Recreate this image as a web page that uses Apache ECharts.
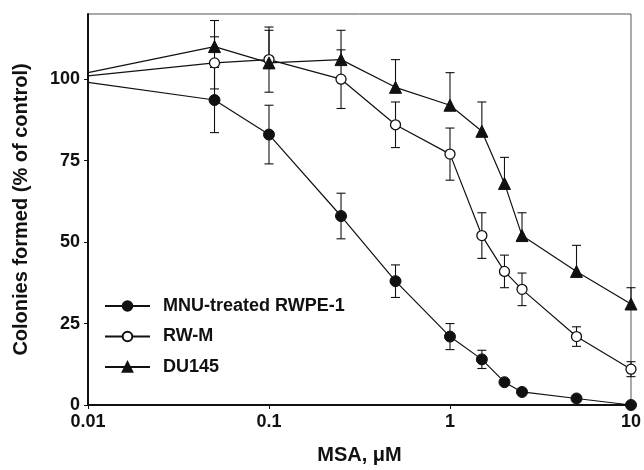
<!DOCTYPE html>
<html>
<head>
<meta charset="utf-8">
<script src="https://cdn.jsdelivr.net/npm/echarts@6/dist/echarts.min.js"></script>
<style>html,body{margin:0;padding:0;background:#fff}#c{width:644px;height:470px}</style>
</head>
<body>
<div id="c"></div>
<script>
// ---- data ----
const doses = [0.01, 0.05, 0.1, 0.25, 0.5, 1, 1.5, 2, 2.5, 5, 10];
const mnuVals = [99, 93.6, 83, 58, 38, 21, 14, 7, 4, 2, 0];
const mnuErr  = [null, 10, 9, 7, 5, 4, 2.8, null, null, null, null];
const rwmVals = [101, 105, 106, 100, 86, 77, 52, 41, 35.5, 21, 11];
const rwmErr  = [null, 8, 10, 9, 7, 8, 7, 5, 5, 3, 2.3];
const duVals  = [102, 110, 105, 106, 97.5, 92, 84, 68, 52, 41, 31];
const duErr   = [null, 8, 10, 9, 8.5, 10, 9, 8, 7, 8, 5];
const yTicks = [0, 25, 50, 75, 100];
const seriesNames = ['MNU-treated RWPE-1', 'RW-M', 'DU145'];

const FONT = '"Liberation Sans", Arial, sans-serif';

function lineData(vals) {
  return doses.map((d, i) => i === 0 ? { value: [d, vals[i]], symbol: 'none' } : [d, vals[i]]);
}
function errData(vals, errs, twoSided) {
  const out = [];
  doses.forEach((d, i) => {
    if (errs[i] == null) return;
    out.push([d, twoSided ? vals[i] - errs[i] : vals[i], vals[i] + errs[i], twoSided ? 1 : 0]);
  });
  return out;
}
function renderErr(params, api) {
  const x = api.value(0), lo = api.value(1), hi = api.value(2), capLo = api.value(3);
  const p1 = api.coord([x, lo]), p2 = api.coord([x, hi]);
  const w = 4.5;
  const st = { stroke: '#111', lineWidth: 1.1 };
  const ch = [
    { type: 'line', shape: { x1: p1[0], y1: p1[1], x2: p2[0], y2: p2[1] }, style: st },
    { type: 'line', shape: { x1: p2[0] - w, y1: p2[1], x2: p2[0] + w, y2: p2[1] }, style: st }
  ];
  if (capLo) ch.push({ type: 'line', shape: { x1: p1[0] - w, y1: p1[1], x2: p1[0] + w, y2: p1[1] }, style: st });
  return { type: 'group', children: ch };
}

const chart = echarts.init(document.getElementById('c'), null, { renderer: 'canvas' });
chart.setOption({
  animation: false,
  backgroundColor: '#fff',
  grid: { left: 88, right: 12, top: 14, bottom: 63, show: true, borderColor: '#555', borderWidth: 1 },
  legend: {
    orient: 'vertical', left: 99, top: 291,
    data: seriesNames,
    itemWidth: 45, itemHeight: 12, itemGap: 10.5,
    textStyle: { fontFamily: FONT, fontWeight: 'bold', fontSize: 18, color: '#111', lineHeight: 20, padding: [0, 0, 0, 8] }
  },
  xAxis: {
    type: 'log', logBase: 10, min: 0.01, max: 10,
    name: 'MSA, μM', nameLocation: 'middle', nameGap: 40,
    nameTextStyle: { fontFamily: FONT, fontWeight: 'bold', fontSize: 20, color: '#111' },
    axisLine: { lineStyle: { color: '#111', width: 2 } },
    axisTick: { show: true, length: 4, lineStyle: { color: '#111', width: 1 } },
    minorTick: { show: false },
    splitLine: { show: false },
    axisLabel: { fontFamily: FONT, fontWeight: 'bold', fontSize: 18, color: '#111', margin: 8,
      formatter: v => String(+v.toPrecision(3)) }
  },
  yAxis: {
    type: 'value', min: 0, max: 120, interval: 25,
    name: 'Colonies formed (% of control)', nameLocation: 'middle', nameGap: 57, nameRotate: 90,
    nameTextStyle: { fontFamily: FONT, fontWeight: 'bold', fontSize: 20, color: '#111' },
    axisLine: { show: true, lineStyle: { color: '#111', width: 2 } },
    axisTick: { show: true, length: 4, customValues: yTicks, lineStyle: { color: '#111', width: 1 } },
    splitLine: { show: false },
    axisLabel: { fontFamily: FONT, fontWeight: 'bold', fontSize: 18, color: '#111', margin: 8,
      customValues: yTicks, formatter: v => String(v) }
  },
  series: [
    { type: 'custom', name: 'errMNU', renderItem: renderErr, data: errData(mnuVals, mnuErr, true), encode: { x: 0, y: [1, 2] }, z: 2, silent: true },
    { type: 'custom', name: 'errRWM', renderItem: renderErr, data: errData(rwmVals, rwmErr, true), encode: { x: 0, y: [1, 2] }, z: 2, silent: true },
    { type: 'custom', name: 'errDU', renderItem: renderErr, data: errData(duVals, duErr, false), encode: { x: 0, y: [1, 2] }, z: 2, silent: true },
    { type: 'line', name: seriesNames[0], data: lineData(mnuVals), symbol: 'circle', symbolSize: 11,
      lineStyle: { color: '#111', width: 1.2 }, itemStyle: { color: '#111', borderColor: '#111', borderWidth: 1 }, z: 3 },
    { type: 'line', name: seriesNames[1], data: lineData(rwmVals), symbol: 'circle', symbolSize: 10,
      lineStyle: { color: '#111', width: 1.2 }, itemStyle: { color: '#fff', borderColor: '#111', borderWidth: 1.3 }, z: 3 },
    { type: 'line', name: seriesNames[2], data: lineData(duVals), symbol: 'triangle', symbolSize: 12,
      lineStyle: { color: '#111', width: 1.2 }, itemStyle: { color: '#111', borderColor: '#111', borderWidth: 1 }, z: 3 }
  ]
});
</script>
</body>
</html>
